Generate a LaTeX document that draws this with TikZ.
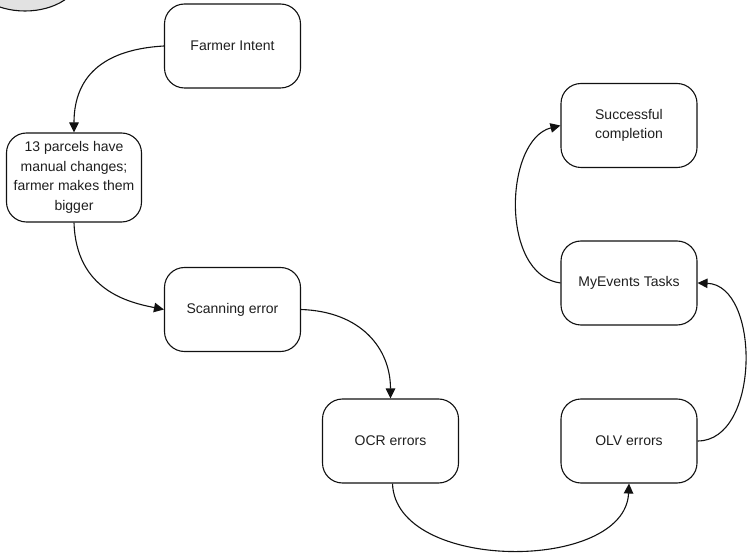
\documentclass[tikz,border=0pt]{standalone}
\usepackage{fontspec}
\setmainfont{Liberation Sans}
\usetikzlibrary{arrows.meta,calc,shapes.geometric}

\definecolor{inkline}{HTML}{111111}
\definecolor{inktext}{HTML}{1E1E1E}
\definecolor{startfill}{HTML}{E2E2E2}

\tikzset{
  stepbox/.style={draw=inkline, line width=1.1pt, rounded corners=20pt,
    minimum width=136pt, minimum height=84pt, inner sep=0pt,
    align=center, text=inktext,
    font=\fontsize{14}{19.5}\selectfont},
  flow/.style={draw=inkline, line width=1.1pt,
    -{Triangle[length=10pt,width=9.5pt]}},
}

\begin{document}
\begin{tikzpicture}[x=1pt,y=-1pt]
  \useasboundingbox (0,0) rectangle (747,553);

  % start terminator, mostly outside the sheet
  \begin{scope}
    \clip (0,0) rectangle (747,553);
    \node[ellipse, draw=inkline, line width=1.1pt, fill=startfill,
          minimum width=110pt, minimum height=72pt, inner sep=0pt]
          (start) at (25,-25) {};
  \end{scope}

  % process steps
  \node[stepbox] (farmer)   at (232.5,46)    {Farmer Intent};
  \node[stepbox, minimum width=135pt, minimum height=89pt]
                 (parcels)  at (74,177.5)    {13 parcels have\\manual changes;\\farmer makes them\\bigger};
  \node[stepbox] (scanning) at (232.5,309.5) {Scanning error};
  \node[stepbox] (ocr)      at (390.5,441)   {OCR errors};
  \node[stepbox] (olv)      at (629,441)     {OLV errors};
  \node[stepbox] (myevents) at (629,283)     {MyEvents Tasks};
  \node[stepbox] (success)  at (629,125.5)   {Successful\\completion};

  % connectors
  \draw[flow] (farmer.west)
     .. controls ($(farmer.west)+(-70,4)$) and ($(parcels.north)+(0,-48)$) .. (parcels.north);
  \draw[flow] (parcels.south)
     .. controls ($(parcels.south)+(2,68)$) and ($(scanning.west)+(-35,-7)$) .. (scanning.west);
  \draw[flow] (scanning.east)
     .. controls ($(scanning.east)+(60,2)$) and ($(ocr.north)+(0,-50)$) .. (ocr.north);
  \draw[flow] ($(ocr.south)+(2,0)$)
     .. controls ($(ocr.south)+(5,89)$) and ($(olv.south)+(-4,89)$) .. (olv.south);
  \draw[flow] (olv.east)
     .. controls ($(olv.east)+(63,0)$) and ($(myevents.east)+(63,2)$) .. (myevents.east);
  \draw[flow] (myevents.west)
     .. controls ($(myevents.west)+(-61,-8)$) and ($(success.west)+(-56,14)$) .. (success.west);
\end{tikzpicture}
\end{document}
